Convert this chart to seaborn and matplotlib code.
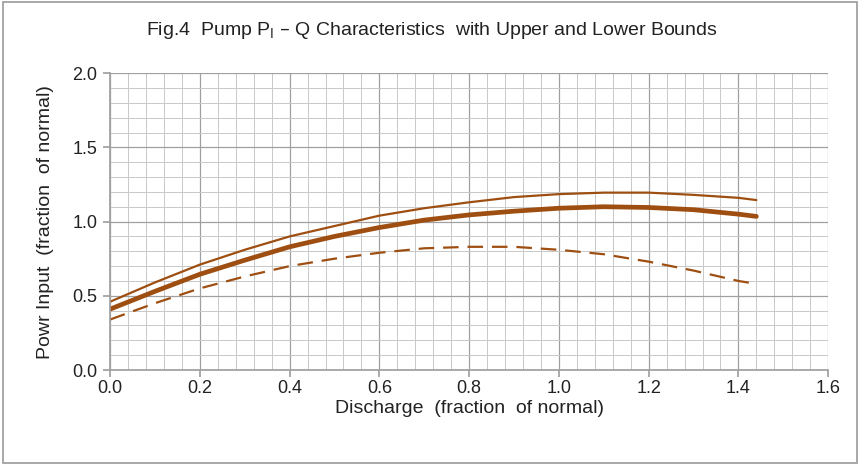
import numpy as np
import pandas as pd
import matplotlib
matplotlib.use('Agg')
import matplotlib.pyplot as plt
import seaborn as sns
from matplotlib.ticker import MultipleLocator
from matplotlib.patches import Rectangle

# discharge (fraction of normal)
q = [0.0, 0.1, 0.2, 0.3, 0.4, 0.5, 0.6, 0.7, 0.8, 0.9, 1.0, 1.1, 1.2, 1.3, 1.4, 1.44]
# power input (fraction of normal)
p_mid = [0.41, 0.53, 0.645, 0.74, 0.83, 0.90, 0.96, 1.01, 1.045, 1.07, 1.09, 1.10, 1.095, 1.08, 1.05, 1.035]
p_upper = [0.46, 0.59, 0.71, 0.81, 0.90, 0.97, 1.04, 1.09, 1.13, 1.165, 1.185, 1.195, 1.195, 1.18, 1.16, 1.145]
p_lower = [0.34, 0.45, 0.55, 0.63, 0.70, 0.75, 0.79, 0.82, 0.83, 0.83, 0.81, 0.78, 0.73, 0.67, 0.60, 0.58]

df = pd.DataFrame({'Q': q, 'mid': p_mid, 'upper': p_upper, 'lower': p_lower})

sns.set_theme(style='white')
plt.rcParams['font.family'] = ['Liberation Sans', 'DejaVu Sans']

brown = '#9E4E10'
fig = plt.figure(figsize=(8.6, 4.66), dpi=100)
ax = fig.add_axes([0.128, 0.206, 0.835, 0.637])

sns.lineplot(data=df, x='Q', y='upper', ax=ax, color=brown, lw=1.6)
sns.lineplot(data=df, x='Q', y='mid', ax=ax, color=brown, lw=3.4)
sns.lineplot(data=df, x='Q', y='lower', ax=ax, color=brown, lw=1.6, linestyle=(0, (7, 4)))

ax.set_xlim(0, 1.6)
ax.set_ylim(0, 2.0)
ax.xaxis.set_major_locator(MultipleLocator(0.2))
ax.xaxis.set_minor_locator(MultipleLocator(0.04))
ax.yaxis.set_major_locator(MultipleLocator(0.5))
ax.yaxis.set_minor_locator(MultipleLocator(0.1))
ax.grid(which='major', color='#a0a0a0', lw=0.9)
ax.grid(which='minor', color='#c8c8c8', lw=0.7)
ax.set_axisbelow(True)
for s in ['top', 'right']:
    ax.spines[s].set_visible(False)
for s in ['left', 'bottom']:
    ax.spines[s].set_color('#a0a0a0')
ax.tick_params(axis='both', which='major', length=5, color='#a0a0a0', labelsize=13, colors='#222222', direction='out', bottom=True, left=True)
ax.tick_params(axis='x', which='major', pad=2)
ax.tick_params(axis='y', which='major', pad=4)
ax.tick_params(axis='both', which='minor', length=0)
ax.xaxis.set_major_formatter(matplotlib.ticker.FormatStrFormatter('%.1f'))
ax.yaxis.set_major_formatter(matplotlib.ticker.FormatStrFormatter('%.1f'))

ax.set_xlabel('Discharge  (fraction  of normal)', fontsize=14, color='#222222', labelpad=2)
ax.set_ylabel('Powr Input  (fraction  of normal)', fontsize=14, color='#222222', labelpad=13)
fig.text(0.502, 0.935, r'Fig.4  Pump P$_{\mathregular{I}}$ – Q Characteristics  with Upper and Lower Bounds',
         ha='center', va='center', fontsize=14, color='#222222')

fig.patches.append(Rectangle((0.004, 0.006), 0.992, 0.99, transform=fig.transFigure,
                             fill=False, edgecolor='#9a9a9a', lw=1.2))

fig.savefig('out.png', dpi=100)
